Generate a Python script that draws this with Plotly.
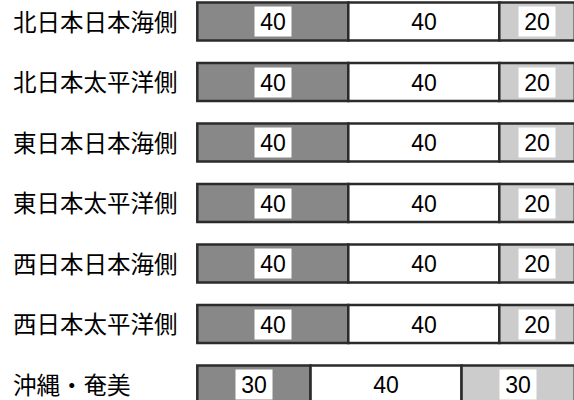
import plotly.graph_objects as go

categories = ["北日本日本海側", "北日本太平洋側", "東日本日本海側", "東日本太平洋側",
              "西日本日本海側", "西日本太平洋側", "沖縄・奄美"]
low = [40, 40, 40, 40, 40, 40, 30]
normal = [40, 40, 40, 40, 40, 40, 40]
high = [20, 20, 20, 20, 20, 20, 30]

series = [(low, "#888888"), (normal, "#ffffff"), (high, "#cccccc")]
ypos = list(range(len(categories)))

fig = go.Figure()
annotations = []
for i, cat in enumerate(categories):
    annotations.append(dict(x=11 / 574, xref="paper", y=i, yref="y", text=cat,
                            showarrow=False, xanchor="left", yanchor="middle", yshift=1,
                            font=dict(family="Noto Sans CJK JP", size=23.5, color="#000000")))

base = [0] * len(categories)
for vals, color in series:
    fig.add_trace(go.Bar(x=vals, y=ypos, base=base, orientation="h", width=0.63,
                         marker=dict(color=color, line=dict(color="#2b2b2b", width=2.5)),
                         hoverinfo="skip", showlegend=False))
    for i, v in enumerate(vals):
        annotations.append(dict(x=base[i] + v / 2, y=i, xref="x", yref="y", text=str(v),
                                showarrow=False, bgcolor="#ffffff", width=34, height=27,
                                borderpad=1, xanchor="center", yanchor="middle",
                                font=dict(family="Liberation Sans, Arial", size=23, color="#000000")))
    base = [b + v for b, v in zip(base, vals)]

px_per_x = 3.775
x0_px = 197.3
px_per_y = 60.5
y0_px = 21.5
fig.update_layout(
    width=574, height=400, autosize=False,
    margin=dict(l=0, r=0, t=0, b=0),
    paper_bgcolor="#ffffff", plot_bgcolor="#ffffff",
    barmode="overlay",
    xaxis=dict(range=[-x0_px / px_per_x, (574 - x0_px) / px_per_x], visible=False, fixedrange=True),
    yaxis=dict(range=[(400 - y0_px) / px_per_y, -y0_px / px_per_y], visible=False, fixedrange=True),
    annotations=annotations,
)
fig.write_html("out.html")
